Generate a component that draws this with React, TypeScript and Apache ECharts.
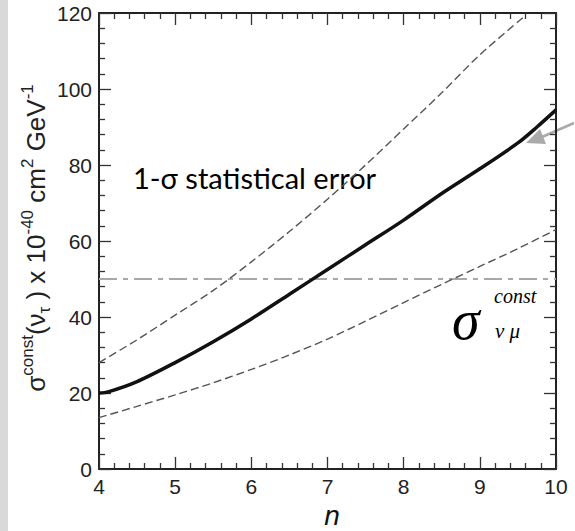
import React, { useEffect, useRef } from "react";
import * as echarts from "echarts";

// ---- data ----
const solidN = [4, 4.12, 4.5, 5, 5.5, 6, 6.5, 7, 7.5, 8, 8.5, 9, 9.5, 9.75, 10];
const solidValues = [20, 20.3, 23, 28, 33.5, 39.5, 46, 52.5, 59, 65.5, 72.5, 79, 85.8, 90, 94.5];

const upperN = [4, 4.5, 5, 5.5, 6, 6.5, 7, 7.5, 8, 8.5, 9, 9.58];
const upperValues = [28, 34, 40.5, 47, 54.5, 62.5, 71, 80, 89.5, 99, 109, 119];

const lowerN = [4, 4.5, 5, 5.5, 6, 6.5, 7, 7.5, 8, 8.5, 9, 9.5, 10];
const lowerValues = [13.5, 16.5, 19.5, 22.7, 26.2, 30, 34.2, 38.9, 43.8, 48.6, 53.3, 58, 63];

const muN = [4, 10];
const muValues = [50, 50];

const xTicks = [4, 5, 6, 7, 8, 9, 10];
const yTicks = [0, 20, 40, 60, 80, 100, 120];

const annotationText = "1-σ statistical error";

const pairs = (xs: number[], ys: number[]) => xs.map((x, i) => [x, ys[i]]);

export default function App() {
  const ref = useRef<HTMLDivElement>(null);

  useEffect(() => {
    if (!ref.current) return;
    const chart = echarts.init(ref.current, undefined, { renderer: "svg" });

    const axisCommon = {
      axisLine: { show: true, onZero: false, lineStyle: { color: "#222", width: 2 } },
      splitLine: { show: false },
      axisTick: { show: true, inside: true, length: 12, lineStyle: { color: "#333", width: 1.3 } },
      minorTick: { show: true, splitNumber: 5, length: 6, lineStyle: { color: "#333", width: 1.3 } },
    };
    const labelStyle = {
      color: "#222",
      fontFamily: "Liberation Sans",
      fontSize: 21,
    };

    const option: any = {
      animation: false,
      backgroundColor: "#ffffff",
      grid: { left: 99, right: 19, top: 13, bottom: 62, containLabel: false },
      xAxis: [
        {
          type: "value",
          min: xTicks[0],
          max: xTicks[xTicks.length - 1],
          interval: 1,
          position: "bottom",
          ...axisCommon,
          axisLabel: { ...labelStyle, margin: 7, showMinLabel: true, showMaxLabel: true },
        },
        {
          type: "value",
          min: xTicks[0],
          max: xTicks[xTicks.length - 1],
          interval: 1,
          position: "top",
          ...axisCommon,
          axisLabel: { show: false },
        },
      ],
      yAxis: [
        {
          type: "value",
          min: yTicks[0],
          max: yTicks[yTicks.length - 1],
          interval: 20,
          position: "left",
          ...axisCommon,
          axisLabel: { ...labelStyle, margin: 7 },
        },
        {
          type: "value",
          min: yTicks[0],
          max: yTicks[yTicks.length - 1],
          interval: 20,
          position: "right",
          ...axisCommon,
          axisLabel: { show: false },
        },
      ],
      series: [
        {
          type: "line",
          data: pairs(muN, muValues),
          symbol: "none",
          lineStyle: { color: "#a8a8a8", width: 2.2, type: [18, 6, 5, 6] },
          z: 2,
        },
        {
          type: "line",
          data: pairs(upperN, upperValues),
          symbol: "none",
          smooth: 0.3,
          lineStyle: { color: "#555", width: 1.4, type: [8, 4] },
          z: 3,
        },
        {
          type: "line",
          data: pairs(lowerN, lowerValues),
          symbol: "none",
          smooth: 0.3,
          lineStyle: { color: "#555", width: 1.4, type: [8, 4] },
          z: 3,
        },
        {
          type: "line",
          data: pairs(solidN, solidValues),
          symbol: "none",
          smooth: 0.3,
          lineStyle: { color: "#111", width: 3.5 },
          z: 4,
        },
      ],
      graphic: [
        { type: "rect", left: 0, top: 0, shape: { width: 8, height: 531 }, style: { fill: "#d9d9d9" }, silent: true },
        {
          type: "text",
          x: 36,
          y: 238,
          rotation: Math.PI / 2,
          style: {
            text: "σ{sup|const}(ν{sub|τ} ) x 10{sup|-40} cm{sup|2} GeV{sup|-1}",
            font: "26px 'Liberation Sans'",
            fill: "#222",
            align: "center",
            verticalAlign: "middle",
            lineHeight: 34,
            rich: {
              sup: { fontSize: 17, fontFamily: "Liberation Sans", fill: "#222", verticalAlign: "top", lineHeight: 17 },
              sub: { fontSize: 17, fontFamily: "Liberation Sans", fill: "#222", verticalAlign: "bottom", lineHeight: 17 },
            },
          },
        },
        {
          type: "text",
          x: 332,
          y: 515,
          style: {
            text: "n",
            font: "italic 28px 'Liberation Sans'",
            fill: "#111",
            align: "center",
            verticalAlign: "middle",
          },
        },
        {
          type: "text",
          x: 133,
          y: 177,
          style: {
            text: annotationText,
            font: "29px Lato",
            fill: "#000",
            align: "left",
            verticalAlign: "middle",
          },
        },
        {
          type: "line",
          shape: { x1: 574, y1: 123, x2: 542, y2: 137 },
          style: { stroke: "#aaaaaa", lineWidth: 2.5 },
        },
        {
          type: "polygon",
          shape: { points: [[526, 143], [540, 129], [546, 144]] },
          style: { fill: "#aaaaaa" },
        },
        {
          type: "text",
          x: 452,
          y: 320,
          style: {
            text: "σ",
            font: "italic 56px 'Liberation Serif'",
            fill: "#000",
            align: "left",
            verticalAlign: "middle",
          },
        },
        {
          type: "text",
          x: 494,
          y: 296,
          style: {
            text: "const",
            font: "italic 20px 'Liberation Serif'",
            fill: "#000",
            align: "left",
            verticalAlign: "middle",
          },
        },
        {
          type: "text",
          x: 495,
          y: 331,
          style: {
            text: "ν μ",
            font: "italic 21px 'Liberation Serif'",
            fill: "#000",
            align: "left",
            verticalAlign: "middle",
          },
        },
      ],
    };

    chart.setOption(option);
    return () => chart.dispose();
  }, []);

  return (
    <div
      ref={ref}
      style={{ position: "absolute", left: 0, top: 0, width: 575, height: 531, background: "#fff" }}
    />
  );
}
